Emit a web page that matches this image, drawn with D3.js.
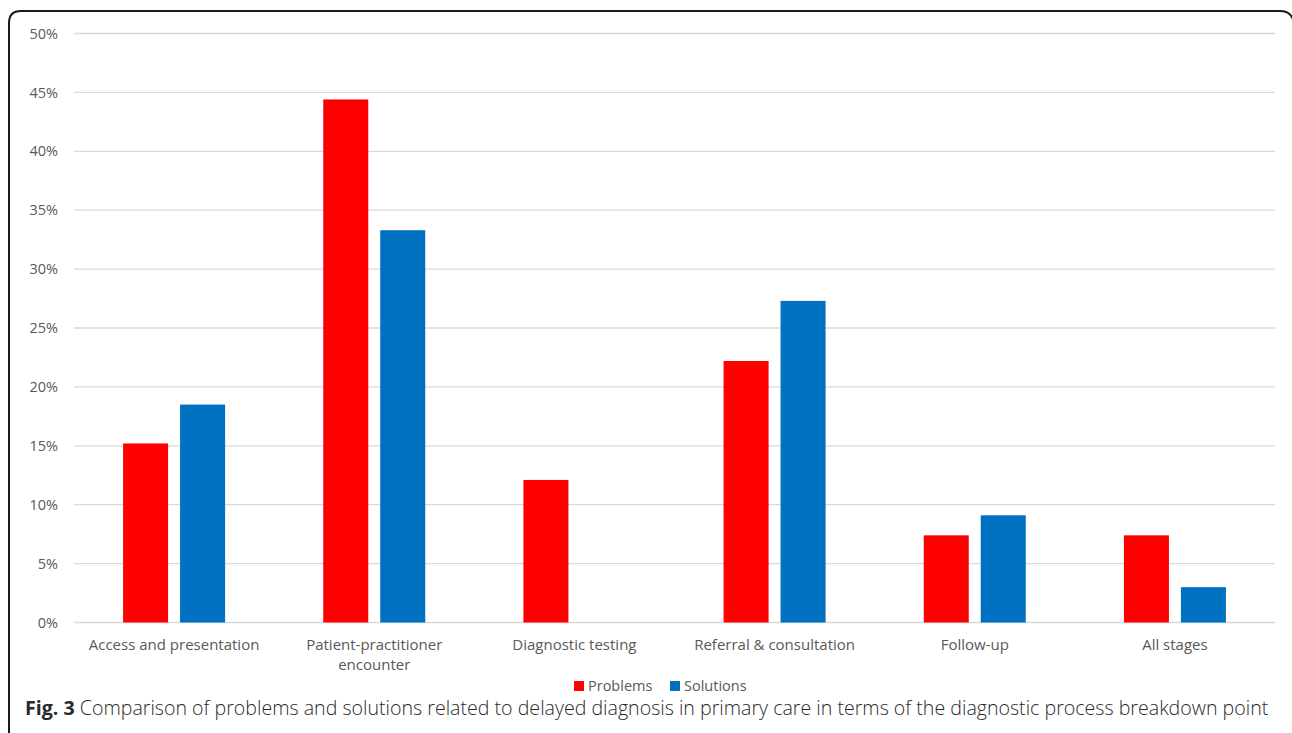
<!DOCTYPE html>
<html>
<head>
<meta charset="utf-8">
<script src="https://cdn.jsdelivr.net/npm/d3@7"></script>
<style>
  body { margin: 0; background: #fff; }
  svg { display: block; }
</style>
</head>
<body>
<svg id="chart" width="1292" height="733"></svg>
<script>
const categories = [["Access and presentation"], ["Patient-practitioner", "encounter"], ["Diagnostic testing"], ["Referral & consultation"], ["Follow-up"], ["All stages"]];
const seriesNames = ["Problems", "Solutions"];
const problems = [15.2, 44.4, 12.1, 22.2, 7.4, 7.4];
const solutions = [18.5, 33.3, 0, 27.3, 9.1, 3.0];
const yTicks = [0, 5, 10, 15, 20, 25, 30, 35, 40, 45, 50];
const colors = ["#FF0000", "#0070C0"];
const caption = ["Fig. 3", " Comparison of problems and solutions related to delayed diagnosis in primary care in terms of the diagnostic process breakdown point"];

const svg = d3.select("#chart");
const font = "'Open Sans', 'Noto Sans', sans-serif";

// frame
svg.append("path")
  .attr("d", "M9,733 L9,23 Q9,11 21,11 L1280,11 Q1292,11 1294,23 L1294,733")
  .attr("fill", "none").attr("stroke", "#1a1a1a").attr("stroke-width", 2);

const x0 = 74, x1 = 1275, yTop = 33.5, yBottom = 622.5;
const catIdx = categories.map((d, i) => i);
const x = d3.scaleBand().domain(catIdx).range([x0, x1]);
const y = d3.scaleLinear().domain([0, 50]).range([yBottom, yTop]);

// gridlines
svg.append("g").selectAll("line").data(yTicks).join("line")
  .attr("x1", x0).attr("x2", x1)
  .attr("y1", d => y(d)).attr("y2", d => y(d))
  .attr("stroke", "#d9d9d9").attr("stroke-width", 1.3);

// y axis labels
const yAxis = d3.axisLeft(y).tickValues(yTicks).tickFormat(d => d + "%").tickSize(0).tickPadding(0);
const ya = svg.append("g").attr("transform", `translate(58,0)`).call(yAxis);
ya.select(".domain").remove();
ya.selectAll("text").attr("font-family", font).attr("font-size", 14.5).attr("fill", "#595959");

// bars
const inner = d3.scaleBand().domain([0, 1]).range([0, 102]).paddingInner(0.21);
const series = [problems, solutions];
series.forEach((vals, s) => {
  svg.append("g").selectAll("rect").data(vals).join("rect")
    .attr("x", (d, i) => x(i) + x.bandwidth() / 2 - 51 + inner(s))
    .attr("width", inner.bandwidth())
    .attr("y", d => y(d))
    .attr("height", d => y(0) - y(d))
    .attr("fill", colors[s]);
});

// x labels
const xl = svg.append("g");
categories.forEach((lines, i) => {
  const t = xl.append("text").attr("text-anchor", "middle")
    .attr("font-family", font).attr("font-size", 15).attr("fill", "#595959");
  lines.forEach((ln, j) => {
    t.append("tspan").attr("x", x(i) + x.bandwidth() / 2).attr("y", 650 + j * 20).text(ln);
  });
});

// legend
const legX = [574, 670];
seriesNames.forEach((n, s) => {
  svg.append("rect").attr("x", legX[s]).attr("y", 681).attr("width", 10).attr("height", 10).attr("fill", colors[s]);
  svg.append("text").attr("x", legX[s] + 14).attr("y", 691)
    .attr("font-family", font).attr("font-size", 14.5).attr("fill", "#595959").text(n);
});

// caption
const cap = svg.append("text").attr("x", 25).attr("y", 715)
  .attr("font-family", font).attr("font-size", 19.6).attr("fill", "#2a2a2a");
cap.append("tspan").attr("font-weight", "bold").text(caption[0]);
cap.append("tspan").attr("font-weight", 300).text(caption[1]);
</script>
</body>
</html>
